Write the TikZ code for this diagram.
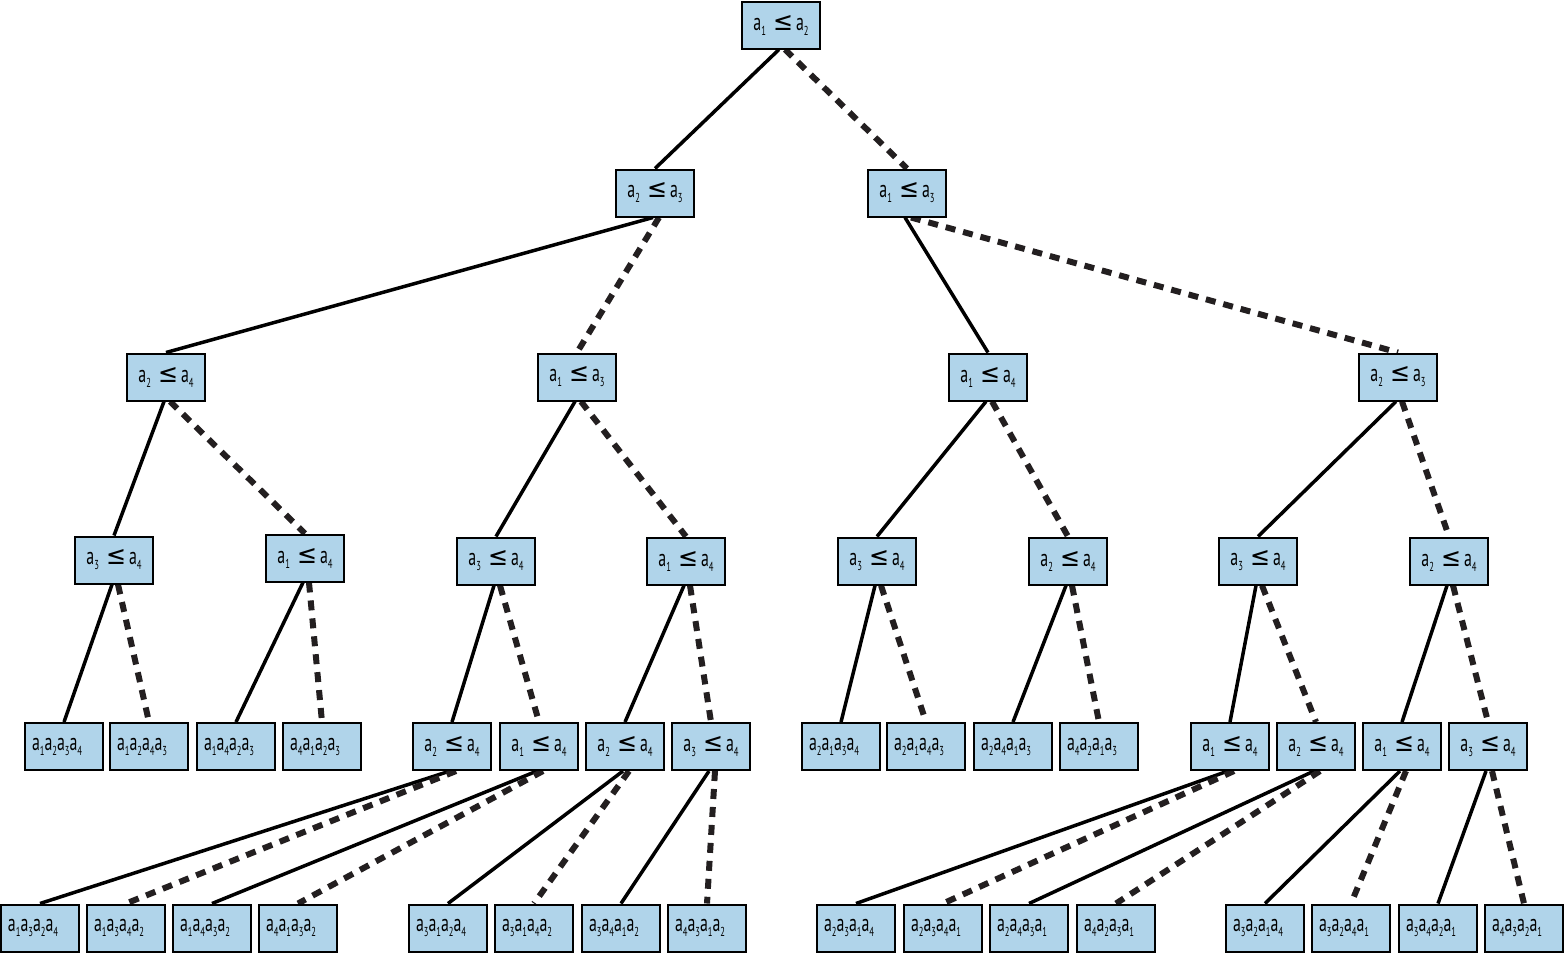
\documentclass[tikz,border=0pt]{standalone}
\usepackage{fontspec}
\usetikzlibrary{backgrounds}
\setmainfont[FakeStretch=0.66]{PT Sans}
\newfontfamily\symfont{DejaVu Sans}
\definecolor{boxfill}{RGB}{176,212,234}
\definecolor{edgecol}{RGB}{35,31,32}
\newcommand\lsub[1]{\raisebox{-5pt}{\fontsize{13}{13}\selectfont #1}}
\newcommand\cmp[2]{a\lsub{#1}\hspace{7pt}\resizebox{20pt}{15pt}{\symfont ≤}\hspace{3pt}a\lsub{#2}}
\newcommand\perm[4]{a\lsub{#1}a\lsub{#2}a\lsub{#3}a\lsub{#4}}
\begin{document}
\begin{tikzpicture}[x=1pt,y=-1pt,
  cbox/.style={draw=black, line width=2pt, fill=boxfill, minimum width=78pt, minimum height=47pt,
    inner sep=0pt, font=\fontsize{24}{24}\selectfont},
  lbox/.style={cbox, text width=64pt, align=left},
  yes/.style={draw=black, line width=3.5pt},
  no/.style={draw=edgecol, line width=6pt, dash pattern=on 10pt off 8pt}]
\useasboundingbox (0,0) rectangle (1565,954);
% root and upper levels
\node[cbox] (r) at (781,25) {\cmp12};
\node[cbox] (l1a) at (655,193) {\cmp23};
\node[cbox] (l1b) at (907,193) {\cmp13};
\node[cbox] (l2a) at (166,377) {\cmp24};
\node[cbox] (l2b) at (577,377) {\cmp13};
\node[cbox] (l2c) at (988,377) {\cmp14};
\node[cbox] (l2d) at (1398,377) {\cmp23};
\node[cbox] (l3a) at (114,560) {\cmp34};
\node[cbox] (l3b) at (305,558) {\cmp14};
\node[cbox] (l3c) at (496,561) {\cmp34};
\node[cbox] (l3d) at (686,561) {\cmp14};
\node[cbox] (l3e) at (877,561) {\cmp34};
\node[cbox] (l3f) at (1068,561) {\cmp24};
\node[cbox] (l3g) at (1258,561) {\cmp34};
\node[cbox] (l3h) at (1449,561) {\cmp24};
% level 4
\node[lbox] (m1) at (64,746.5) {\perm1234};
\node[lbox] (m2) at (149,746.5) {\perm1243};
\node[lbox] (m3) at (236,746.5) {\perm1423};
\node[lbox] (m4) at (322,746.5) {\perm4123};
\node[cbox] (m5) at (452,746.5) {\cmp24};
\node[cbox] (m6) at (539,746.5) {\cmp14};
\node[cbox] (m7) at (625,746.5) {\cmp24};
\node[cbox] (m8) at (711,746.5) {\cmp34};
\node[lbox] (m9) at (841,746.5) {\perm2134};
\node[lbox] (m10) at (926,746.5) {\perm2143};
\node[lbox] (m11) at (1013,746.5) {\perm2413};
\node[lbox] (m12) at (1099,746.5) {\perm4213};
\node[cbox] (m13) at (1230,746.5) {\cmp14};
\node[cbox] (m14) at (1316,746.5) {\cmp24};
\node[cbox] (m15) at (1402,746.5) {\cmp14};
\node[cbox] (m16) at (1488,746.5) {\cmp34};
% level 5
\node[lbox] (n1) at (40,928) {\perm1324};
\node[lbox] (n2) at (126,928) {\perm1342};
\node[lbox] (n3) at (212,928) {\perm1432};
\node[lbox] (n4) at (298,928) {\perm4132};
\node[lbox] (n5) at (448,928) {\perm3124};
\node[lbox] (n6) at (534,928) {\perm3142};
\node[lbox] (n7) at (621,928) {\perm3412};
\node[lbox] (n8) at (707,928) {\perm4312};
\node[lbox] (n9) at (856,928) {\perm2314};
\node[lbox] (n10) at (943,928) {\perm2341};
\node[lbox] (n11) at (1029,928) {\perm2431};
\node[lbox] (n12) at (1116,928) {\perm4231};
\node[lbox] (n13) at (1265,928) {\perm3214};
\node[lbox] (n14) at (1351,928) {\perm3241};
\node[lbox] (n15) at (1438,928) {\perm3421};
\node[lbox] (n16) at (1524,928) {\perm4321};
% edges
\newcommand\yesno[3]{%
  \draw[yes] ([xshift=-2pt]#1.south) -- (#2.north);
  \draw[no] ([xshift=4pt]#1.south) -- (#3.north);}
\begin{pgfonlayer}{background}
\yesno{r}{l1a}{l1b}
\yesno{l1a}{l2a}{l2b}
\yesno{l1b}{l2c}{l2d}
\yesno{l2a}{l3a}{l3b}
\yesno{l2b}{l3c}{l3d}
\yesno{l2c}{l3e}{l3f}
\yesno{l2d}{l3g}{l3h}
\yesno{l3a}{m1}{m2}
\yesno{l3b}{m3}{m4}
\yesno{l3c}{m5}{m6}
\yesno{l3d}{m7}{m8}
\yesno{l3e}{m9}{m10}
\yesno{l3f}{m11}{m12}
\yesno{l3g}{m13}{m14}
\yesno{l3h}{m15}{m16}
\yesno{m5}{n1}{n2}
\yesno{m6}{n3}{n4}
\yesno{m7}{n5}{n6}
\yesno{m8}{n7}{n8}
\yesno{m13}{n9}{n10}
\yesno{m14}{n11}{n12}
\yesno{m15}{n13}{n14}
\yesno{m16}{n15}{n16}
\end{pgfonlayer}
\end{tikzpicture}
\end{document}
